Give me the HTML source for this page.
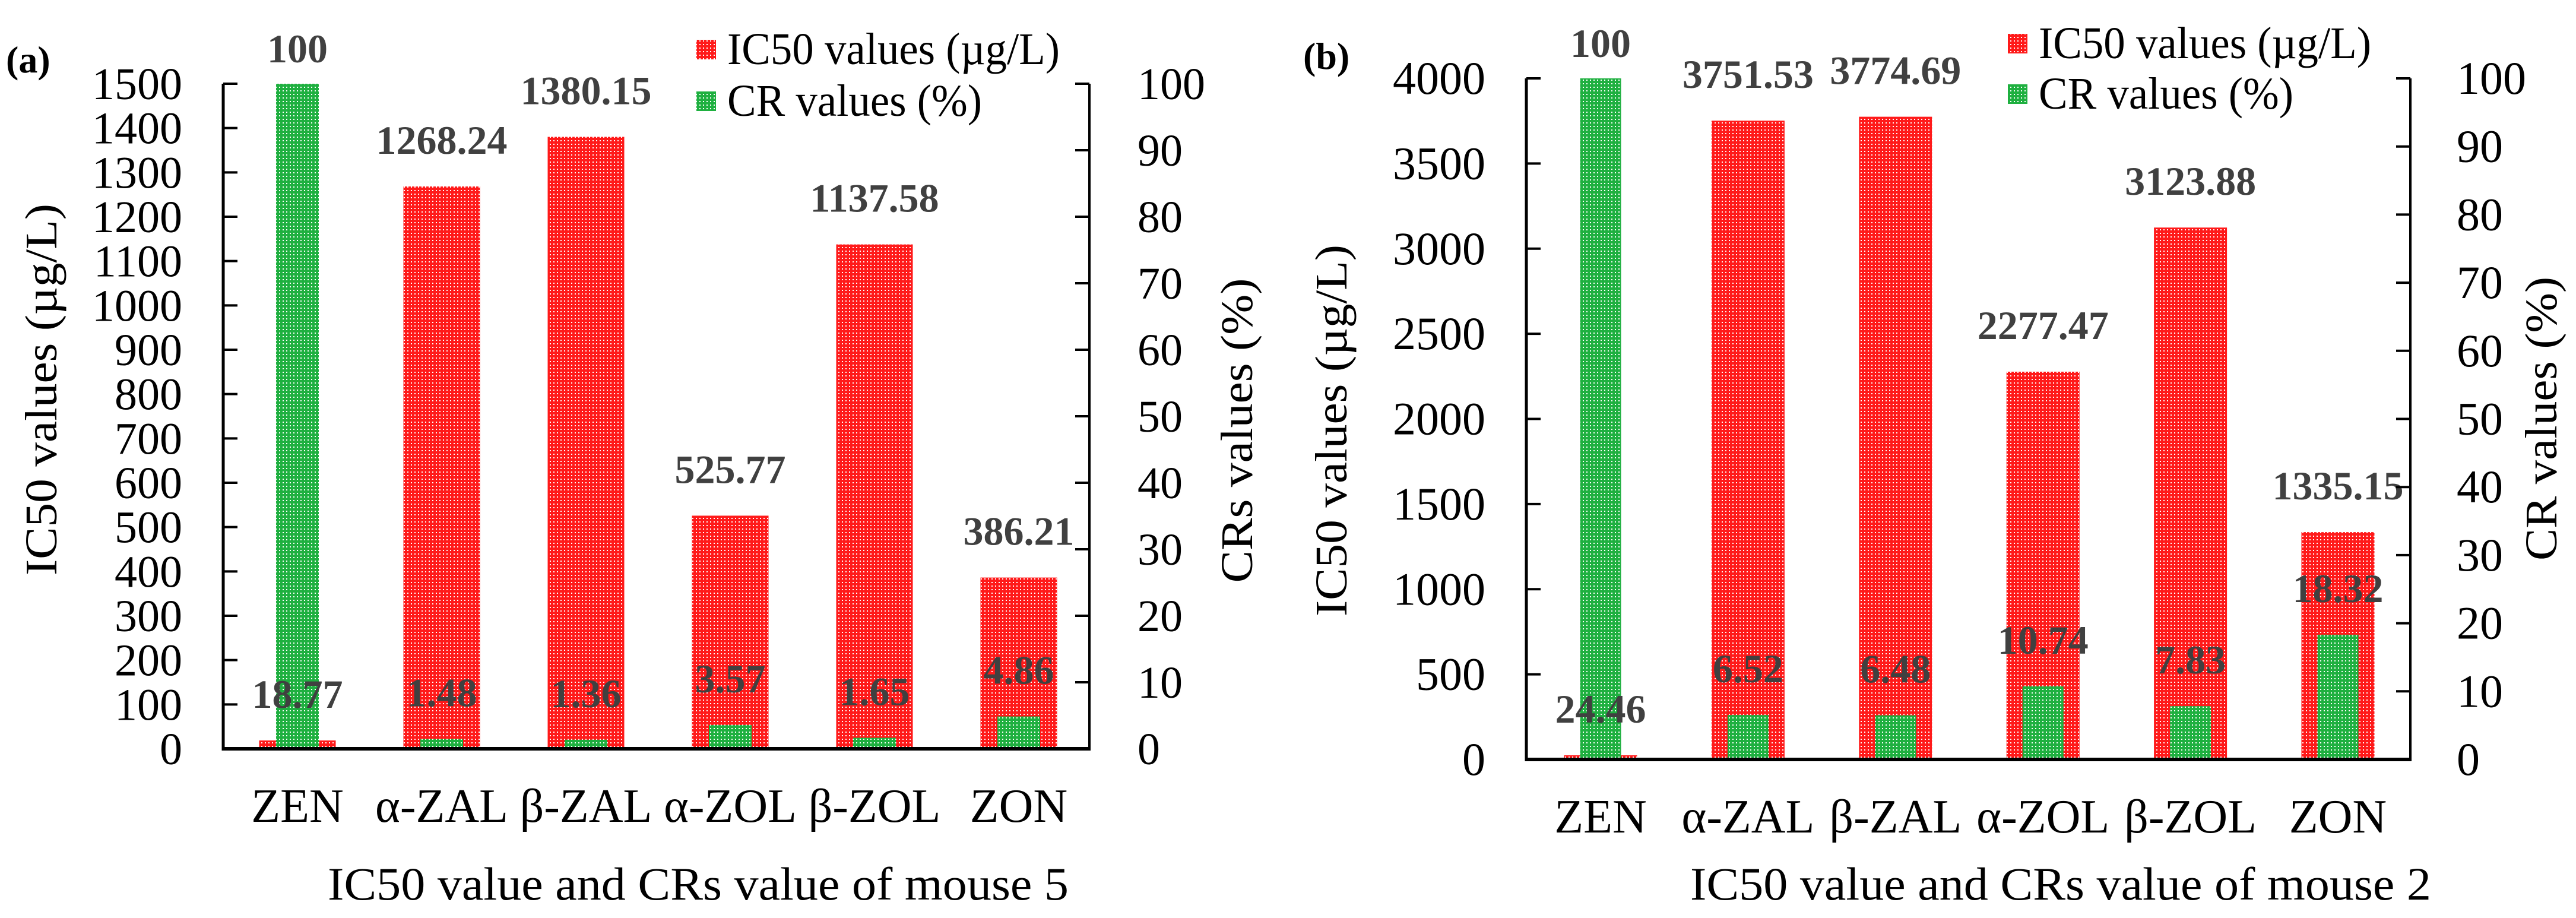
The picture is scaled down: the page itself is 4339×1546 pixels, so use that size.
<!DOCTYPE html>
<html><head><meta charset="utf-8"><style>
html,body{margin:0;padding:0;background:#fff}
svg{display:block}
svg text{font-family:"Liberation Serif","DejaVu Serif",serif !important}
</style></head><body>
<svg id="chart" width="4339" height="1546" viewBox="0 0 4339 1546" xmlns="http://www.w3.org/2000/svg" font-family="Liberation Serif, serif">
<defs>
<pattern id="pr" width="6" height="6" patternUnits="userSpaceOnUse"><rect width="6" height="6" fill="#ff1a1a"/><rect x="2" y="2" width="2" height="2" fill="#ffffff"/></pattern>
<pattern id="pg" width="6" height="6" patternUnits="userSpaceOnUse"><rect width="6" height="6" fill="#1fb040"/><rect x="2" y="2" width="2" height="2" fill="#ffffff"/></pattern>
</defs>
</svg>
<script>
const categories = ["ZEN","α-ZAL","β-ZAL","α-ZOL","β-ZOL","ZON"];
const ic50A = [18.77,1268.24,1380.15,525.77,1137.58,386.21];
const crA = [100,1.48,1.36,3.57,1.65,4.86];
const ic50B = [24.46,3751.53,3774.69,2277.47,3123.88,1335.15];
const crB = [100,6.52,6.48,10.74,7.83,18.32];
const leftTicksA = [0,100,200,300,400,500,600,700,800,900,1000,1100,1200,1300,1400,1500];
const leftTicksB = [0,500,1000,1500,2000,2500,3000,3500,4000];
const rightTicks = [0,10,20,30,40,50,60,70,80,90,100];

const NS="http://www.w3.org/2000/svg";
const svg=document.getElementById('chart');
function mk(tag,attrs,parent,txt){const e=document.createElementNS(NS,tag);for(const k in attrs)e.setAttribute(k,attrs[k]);if(tag==='text'){e.setAttribute('font-family','Liberation Serif, serif');e.style.fontFamily='"Liberation Serif", serif';}if(txt!==undefined)e.textContent=txt;(parent||svg).appendChild(e);return e;}

function panel(cfg){
  const g=mk('g',{});
  
  
  const lmax=cfg.lticks[cfg.lticks.length-1];
  const yL=v=>cfg.y0-(v/lmax)*(cfg.y0-cfg.yTop);
  const yR=v=>cfg.y0-(v/100)*(cfg.y0-cfg.yTop);
  const xC=i=>cfg.c0+i*cfg.step;
  categories.forEach((c,i)=>{
    const r=mk('rect',{x:xC(i)-cfg.rw/2,y:yL(cfg.ic50[i]),width:cfg.rw,height:cfg.y0-yL(cfg.ic50[i]),fill:'url(#pr)'},g);
    
    
    const gr=mk('rect',{x:xC(i)-cfg.gw/2,y:yR(cfg.cr[i]),width:cfg.gw,height:cfg.y0-yR(cfg.cr[i]),fill:'url(#pg)'},g);
    
    
  });
  categories.forEach((c,i)=>{
    const t1=mk('text',{x:xC(i),y:yL(cfg.ic50[i])-79+24,'text-anchor':'middle','font-size':68,'font-weight':'bold',fill:'#404040'},g,String(cfg.ic50[i]));
    
    
    const t2=mk('text',{x:xC(i),y:yR(cfg.cr[i])-(i===0?60:79)+24,'text-anchor':'middle','font-size':68,'font-weight':'bold',fill:'#404040'},g,String(cfg.cr[i]));
    
    
  });
  const al=mk('line',{x1:cfg.xL,y1:cfg.yTop,x2:cfg.xL,y2:cfg.y0+3,stroke:'#000','stroke-width':5},g);
  
  
  const ar=mk('line',{x1:cfg.xR,y1:cfg.yTop,x2:cfg.xR,y2:cfg.y0+3,stroke:'#000','stroke-width':4},g);
  
  
  const ax=mk('line',{x1:cfg.xL-2,y1:cfg.y0,x2:cfg.xR+2,y2:cfg.y0,stroke:'#000','stroke-width':6},g);
  
  
  cfg.lticks.forEach(v=>{
    mk('line',{x1:cfg.xL,y1:yL(v),x2:cfg.xL+24,y2:yL(v),stroke:'#000','stroke-width':4},g);
    const t=mk('text',{x:cfg.lLab,y:yL(v)+26,'text-anchor':'end','font-size':cfg.fs},g,String(v));
    
    
  });
  rightTicks.forEach(v=>{
    mk('line',{x1:cfg.xR-24,y1:yR(v),x2:cfg.xR,y2:yR(v),stroke:'#000','stroke-width':4},g);
    const t=mk('text',{x:cfg.rLab,y:yR(v)+26,'text-anchor':'start','font-size':cfg.fs},g,String(v));
    
    
  });
  categories.forEach((c,i)=>{
    const t=mk('text',{x:xC(i),y:cfg.catY+27,'text-anchor':'middle','font-size':80},g,c);
    
    
  });
  const lt=mk('text',{x:0,y:0,'text-anchor':'middle','font-size':76,transform:`translate(${cfg.ltX+26},${cfg.ltY}) rotate(-90)`,textLength:626,lengthAdjust:'spacingAndGlyphs'},g,'IC50 values (µg/L)');
  
  
  const rt=mk('text',{x:0,y:0,'text-anchor':'middle','font-size':76,transform:`translate(${cfg.rtX+26},${cfg.rtY}) rotate(-90)`,textLength:cfg.rtLen,lengthAdjust:'spacingAndGlyphs'},g,cfg.rtText);
  
  
  const xt=mk('text',{x:cfg.xtX,y:1489+26,'text-anchor':'middle','font-size':78,textLength:1248,lengthAdjust:'spacingAndGlyphs'},g,cfg.xtText);
  
  
  const pl=mk('text',{x:cfg.plX,y:cfg.plY+22,'font-size':64,'font-weight':'bold'},g,cfg.pl);
  
  
  const l1=mk('rect',{x:cfg.lgX,y:cfg.lg1Y-16,width:33,height:33,fill:'url(#pr)'},g);
  
  
  const lt1=mk('text',{x:cfg.lgX+52,y:cfg.lg1Y+25,'font-size':76,textLength:560,lengthAdjust:'spacingAndGlyphs'},g,'IC50 values (µg/L)');
  
  
  const l2=mk('rect',{x:cfg.lgX,y:cfg.lg2Y-16,width:33,height:33,fill:'url(#pg)'},g);
  
  
  const lt2=mk('text',{x:cfg.lgX+52,y:cfg.lg2Y+25,'font-size':76,textLength:429,lengthAdjust:'spacingAndGlyphs'},g,'CR values (%)');
  
  
}

panel({id:'a',ic50:ic50A,cr:crA,lticks:leftTicksA,xL:376,xR:1835,yTop:141,y0:1261,c0:501,step:243,rw:129,gw:72,
  lLab:307,rLab:1916,fs:76,catY:1357,ltX:69,ltY:656,rtX:2083,rtY:725,rtText:'CRs values (%)',rtLen:513,
  xtX:1176,xtText:'IC50 value and CRs value of mouse 5',pl:'(a)',plX:10,plY:100,lgX:1173,lg1Y:83,lg2Y:170});
panel({id:'b',ic50:ic50B,cr:crB,lticks:leftTicksB,xL:2571,xR:4060,yTop:132,y0:1279,c0:2696,step:248.4,rw:123,gw:69,
  lLab:2502,rLab:4138,fs:78,catY:1375,ltX:2242,ltY:725,rtX:4280,rtY:705,rtText:'CR values (%)',rtLen:478,
  xtX:3471,xtText:'IC50 value and CRs value of mouse 2',pl:'(b)',plX:2195,plY:94,lgX:3382,lg1Y:73,lg2Y:158});
</script>
</body></html>
